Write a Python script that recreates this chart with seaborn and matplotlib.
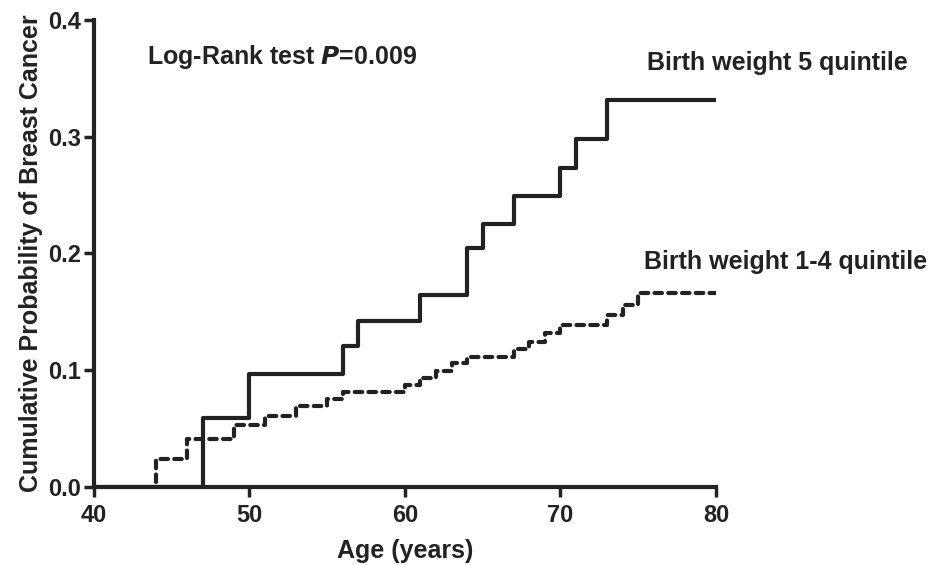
import pandas as pd
import matplotlib
matplotlib.use('Agg')
import matplotlib.pyplot as plt
import seaborn as sns

# step times (age, years) and cumulative probability after each step
bw5_age = [40, 47, 50, 56, 57, 61, 64, 65, 67, 70, 71, 73, 80]
bw5_prob = [0.0, 0.059, 0.097, 0.121, 0.142, 0.164, 0.205, 0.225, 0.249, 0.273, 0.298, 0.331, 0.331]

bw14_age = [44, 44.01, 46, 49, 51, 53, 55, 56, 60, 61, 62, 63, 64, 67, 68, 69, 70, 73, 74, 75, 80]
bw14_prob = [0.004, 0.024, 0.041, 0.053, 0.061, 0.069, 0.075, 0.081, 0.087, 0.093, 0.099, 0.106,
             0.111, 0.118, 0.124, 0.132, 0.139, 0.147, 0.156, 0.166, 0.166]

xticks = [40, 50, 60, 70, 80]
yticks = [0.0, 0.1, 0.2, 0.3, 0.4]

sns.set_style('ticks')
plt.rcParams['font.family'] = ['Liberation Sans', 'DejaVu Sans']
plt.rcParams['font.weight'] = 'bold'
ink = '#222222'

df5 = pd.DataFrame({'Age': bw5_age, 'Prob': bw5_prob})
df14 = pd.DataFrame({'Age': bw14_age, 'Prob': bw14_prob})

fig = plt.figure(figsize=(9.38, 5.65), dpi=100)
ax = fig.add_axes([0.1002, 0.138, 0.663, 0.827])

sns.lineplot(data=df5, x='Age', y='Prob', estimator=None, drawstyle='steps-post',
             color=ink, linewidth=3.0, ax=ax)
sns.lineplot(data=df14, x='Age', y='Prob', estimator=None, drawstyle='steps-post',
             color=ink, linewidth=3.0, ax=ax)
ax.lines[1].set_linestyle((0, (1.8, 1.5)))
ax.lines[1].set_dash_capstyle('round')

ax.set_xlim(40, 80)
ax.set_ylim(0, 0.4)
ax.set_xticks(xticks)
ax.set_yticks(yticks)
ax.set_yticklabels(['0.0', '0.1', '0.2', '0.3', '0.4'])
ax.set_xlabel('Age (years)', fontsize=18, fontweight='bold', color=ink, labelpad=9)
ax.set_ylabel('Cumulative Probability of Breast Cancer', fontsize=18, fontweight='bold',
              color=ink, labelpad=4)
ax.tick_params(axis='both', direction='out', length=7, width=2.5, color=ink,
               labelsize=17, labelcolor=ink, pad=2)
ax.tick_params(axis='x', pad=5)
for lab in ax.get_xticklabels() + ax.get_yticklabels():
    lab.set_fontweight('bold')

for s in ['top', 'right']:
    ax.spines[s].set_visible(False)
for s in ['left', 'bottom']:
    ax.spines[s].set_linewidth(3)
    ax.spines[s].set_color(ink)

ax.text(43.4, 0.368, 'Log-Rank test $\\boldsymbol{P}$=0.009', fontsize=18, fontweight='bold',
        color=ink, va='center', ha='left')
ax.text(75.6, 0.363, 'Birth weight 5 quintile', fontsize=18, fontweight='bold',
        color=ink, va='center', ha='left', clip_on=False)
ax.text(75.4, 0.193, 'Birth weight 1-4 quintile', fontsize=18, fontweight='bold',
        color=ink, va='center', ha='left', clip_on=False)

fig.savefig('out.png', dpi=100)
